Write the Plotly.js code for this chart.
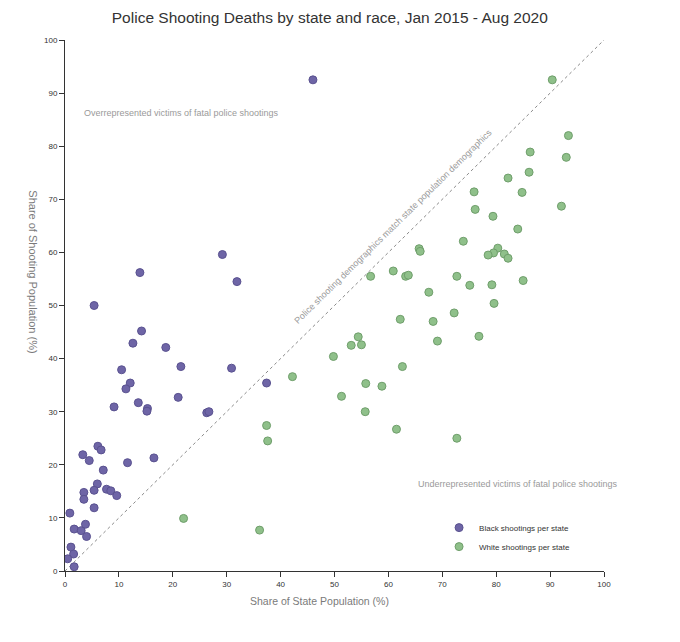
<!DOCTYPE html>
<html>
<head>
<meta charset="utf-8">
<script src="https://cdn.plot.ly/plotly-3.0.1.min.js"></script>
<style>
  body { margin: 0; background: #fff; }
  #plot { width: 680px; height: 642px; }
</style>
</head>
<body>
<div id="plot"></div>
<script>
// Share of state population (x) vs share of police shooting victims (y), in %
var blackX = [13.9, 31.9, 5.4, 14.2, 12.6, 18.7, 10.5, 21.5, 30.9, 12.1,
              11.3, 21.0, 13.6, 9.1, 15.3, 15.2, 26.3, 26.7, 6.1, 6.7,
              3.3, 4.5, 11.6, 16.5, 7.1, 6.0, 5.4, 3.5, 3.5, 7.7,
              8.5, 9.6, 5.4, 0.9, 1.7, 3.0, 3.8, 4.0, 1.1, 1.6,
              0.5, 1.7, 46.0, 29.2, 37.4];
var blackY = [56.2, 54.5, 50.0, 45.2, 42.9, 42.1, 37.9, 38.5, 38.2, 35.4,
              34.3, 32.7, 31.7, 30.9, 30.6, 30.1, 29.8, 30.0, 23.5, 22.8,
              21.9, 20.8, 20.4, 21.3, 19.0, 16.4, 15.2, 14.8, 13.5, 15.4,
              15.1, 14.2, 11.9, 10.9, 7.9, 7.6, 8.8, 6.5, 4.5, 3.2,
              2.3, 0.8, 92.5, 59.6, 35.4];

var whiteX = [86.3, 93.0, 86.1, 82.2, 75.9, 84.8, 92.1, 76.1, 79.4, 84.0,
              73.9, 65.7, 65.9, 80.3, 79.5, 78.5, 81.5, 82.2, 60.9, 56.7,
              63.2, 63.7, 72.7, 85.0, 75.1, 79.2, 67.5, 79.6, 72.2, 62.2,
              68.3, 76.8, 54.4, 53.1, 55.0, 69.1, 49.8, 62.6, 42.2, 55.8,
              58.8, 51.3, 55.7, 61.5, 72.7, 90.4, 93.4, 37.4, 37.6, 22.0,
              36.1];
var whiteY = [78.9, 77.9, 75.1, 74.0, 71.4, 71.3, 68.7, 68.1, 66.8, 64.4,
              62.1, 60.7, 60.2, 60.8, 59.9, 59.5, 59.7, 58.9, 56.5, 55.5,
              55.5, 55.7, 55.5, 54.7, 53.8, 53.9, 52.5, 50.4, 48.6, 47.4,
              47.0, 44.2, 44.1, 42.5, 42.6, 43.3, 40.4, 38.5, 36.6, 35.3,
              34.8, 32.9, 30.0, 26.7, 25.0, 92.5, 82.0, 27.4, 24.5, 9.9,
              7.7];

// line of parity: shooting share equals population share
var parity = [0, 100];

var textGrey = '#9a9a9a';
var titleGrey = '#7a7a7a';

var parityLine = {
  x: parity,
  y: parity,
  mode: 'lines',
  line: { color: '#8a8a8a', width: 1, dash: 'dot' },
  hoverinfo: 'skip',
  showlegend: false,
  type: 'scatter'
};

var black = {
  x: blackX,
  y: blackY,
  mode: 'markers',
  name: 'Black shootings per state',
  marker: { size: 8, color: '#6e65a6', line: { color: '#5a5290', width: 1 } },
  type: 'scatter'
};

var white = {
  x: whiteX,
  y: whiteY,
  mode: 'markers',
  name: 'White shootings per state',
  marker: { size: 8, color: '#8fc08a', line: { color: '#6f9e6b', width: 1 } },
  type: 'scatter'
};

var data = [parityLine, black, white];

var axisStyle = {
  range: [0, 100],
  dtick: 10,
  ticks: 'outside',
  ticklen: 5,
  tickcolor: '#333',
  showline: true,
  linecolor: '#333',
  linewidth: 1,
  showgrid: false,
  zeroline: false,
  tickfont: { size: 8, color: '#333' }
};

var layout = {
  width: 680,
  height: 642,
  margin: { l: 65, r: 76, t: 40, b: 71 },
  paper_bgcolor: '#fff',
  plot_bgcolor: '#fff',
  font: { family: 'Liberation Sans, Arial, sans-serif' },
  title: {
    text: 'Police Shooting Deaths by state and race, Jan 2015 - Aug 2020',
    font: { size: 15.5, color: '#333' },
    x: 0.485,
    y: 0.972,
    yanchor: 'middle'
  },
  xaxis: axisStyle,
  yaxis: Object.assign({}, axisStyle),
  legend: {
    x: 0.694,
    y: 0.109,
    xanchor: 'left',
    yanchor: 'top',
    bgcolor: 'rgba(0,0,0,0)',
    font: { size: 8, color: '#333' },
    tracegroupgap: 4
  },
  annotations: [
    // axis titles, placed off-centre as in the source chart
    {
      xref: 'paper', yref: 'paper', x: 0.473, y: -0.057,
      xanchor: 'center', yanchor: 'middle', showarrow: false,
      text: 'Share of State Population (%)',
      font: { size: 10.5, color: titleGrey }
    },
    {
      xref: 'paper', yref: 'paper', x: -0.059, y: 0.564,
      xanchor: 'center', yanchor: 'middle', showarrow: false, textangle: 90,
      text: 'Share of Shooting Population (%)',
      font: { size: 11, color: titleGrey }
    },
    {
      x: 3.1, y: 86.2, xanchor: 'left', yanchor: 'middle', showarrow: false,
      text: 'Overrepresented victims of fatal police shootings',
      font: { size: 9, color: textGrey }
    },
    {
      xref: 'paper', x: 1.03, y: 16.4, xanchor: 'right', yanchor: 'middle', showarrow: false,
      text: 'Underrepresented victims of fatal police shootings',
      font: { size: 9, color: textGrey }
    },
    {
      x: 61.0, y: 64.9, showarrow: false, textangle: -44.5,
      text: 'Police shooting demographics match state population demographics',
      font: { size: 9, color: textGrey }
    }
  ]
};

Plotly.newPlot('plot', data, layout, { displayModeBar: false });
</script>
</body>
</html>
